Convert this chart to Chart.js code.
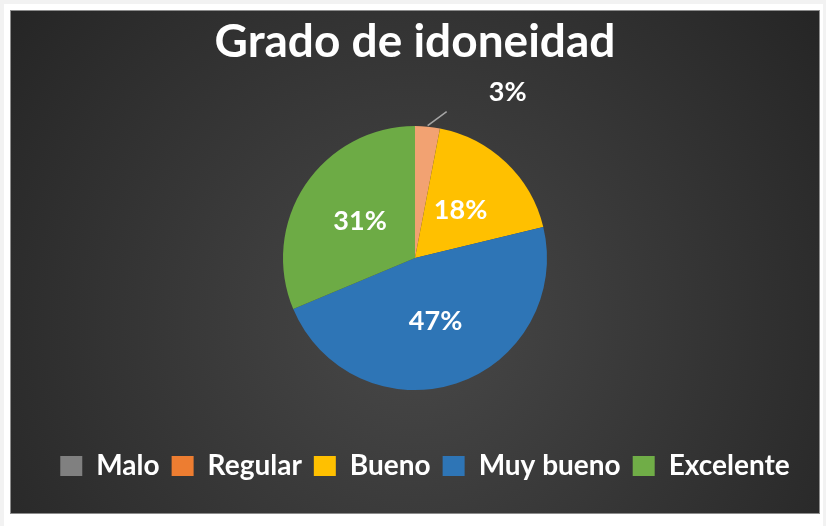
<!DOCTYPE html>
<html><head><meta charset="utf-8">
<script src="https://cdn.jsdelivr.net/npm/chart.js@4.4.0/dist/chart.umd.min.js"></script>
<style>
html,body{margin:0;padding:0;width:826px;height:526px;background:#f2f2f2;overflow:hidden;}
#frame{position:absolute;left:4px;top:4px;width:819px;height:522px;background:#ffffff;}
#wrap{position:absolute;left:10px;top:10px;width:810px;height:504px;border:1px solid #8c8c8c;box-sizing:border-box;}
canvas{display:block;}
</style>
</head><body>
<div id="frame"></div>
<div id="wrap"><canvas id="c" width="808" height="502"></canvas></div>
<script>
const titleText = "Grado de idoneidad";
const categories = ["Malo", "Regular", "Bueno", "Muy bueno", "Excelente"];
const percentValues = [0, 3, 18, 47, 31];
const sliceColors = ["#808080", "#F2A272", "#FFC000", "#2E75B6", "#6DAB45"];
const legendColors = ["#808080", "#ED7D31", "#FFC000", "#2E75B6", "#70AD47"];

const FONT = "Lato, 'Open Sans', sans-serif";

const bgPlugin = {
  id: 'bg',
  beforeDraw(chart) {
    const {ctx, width, height} = chart;
    ctx.save();
    const g = ctx.createRadialGradient(width * 0.5, height * 0.62, 0, width * 0.5, height * 0.62, width * 0.62);
    g.addColorStop(0, '#484848');
    g.addColorStop(1, '#262626');
    ctx.fillStyle = g;
    ctx.fillRect(0, 0, width, height);
    ctx.restore();
  }
};

const legendShift = {
  id: 'legendShift',
  afterLayout(chart) {
    if (chart.legend) {
      chart.legend.left += 10;
      chart.legend.right += 10;
    }
  }
};

const labelPlugin = {
  id: 'pctLabels',
  afterDatasetsDraw(chart) {
    const {ctx} = chart;
    const meta = chart.getDatasetMeta(0);
    const data = chart.data.datasets[0].data;
    ctx.save();
    ctx.font = "bold 27px " + FONT;
    ctx.fillStyle = '#ffffff';
    ctx.textAlign = 'center';
    ctx.textBaseline = 'middle';
    meta.data.forEach((arc, i) => {
      const v = data[i];
      if (!v) return;
      const txt = v + '%';
      if (v >= 5) {
        const p = arc.tooltipPosition();
        ctx.fillText(txt, p.x, p.y);
      } else {
        const mid = (arc.startAngle + arc.endAngle) / 2;
        const ex = arc.x + Math.cos(mid) * (arc.outerRadius + 1);
        const ey = arc.y + Math.sin(mid) * (arc.outerRadius + 1);
        ctx.strokeStyle = '#a6a6a6';
        ctx.lineWidth = 1.5;
        ctx.beginPath();
        ctx.moveTo(ex, ey);
        ctx.lineTo(ex + 19, ey - 14);
        ctx.stroke();
        ctx.fillText(txt, ex + 80, ey - 33);
      }
    });
    ctx.restore();
  }
};

new Chart(document.getElementById('c'), {
  type: 'pie',
  data: {
    labels: categories,
    datasets: [{
      data: percentValues,
      backgroundColor: sliceColors,
      borderWidth: 0
    }]
  },
  options: {
    responsive: false,
    animation: false,
    radius: 132,
    layout: { padding: { top: 0, bottom: 23, left: 0, right: 0 } },
    plugins: {
      tooltip: { enabled: false },
      title: {
        display: true,
        text: titleText,
        color: '#ffffff',
        font: { family: FONT, size: 46, weight: 'bold' },
        padding: { top: 4, bottom: 6 }
      },
      legend: {
        position: 'bottom',
        labels: {
          color: '#ffffff',
          font: { family: FONT, size: 28, weight: 'bold' },
          boxWidth: 22,
          boxHeight: 20,
          padding: 12,
          generateLabels(chart) {
            return chart.data.labels.map((l, i) => ({
              text: l,
              fillStyle: legendColors[i],
              strokeStyle: legendColors[i],
              lineWidth: 0,
              fontColor: '#ffffff',
              index: i,
              hidden: false
            }));
          }
        }
      }
    }
  },
  plugins: [bgPlugin, legendShift, labelPlugin]
});
</script>
</body></html>
